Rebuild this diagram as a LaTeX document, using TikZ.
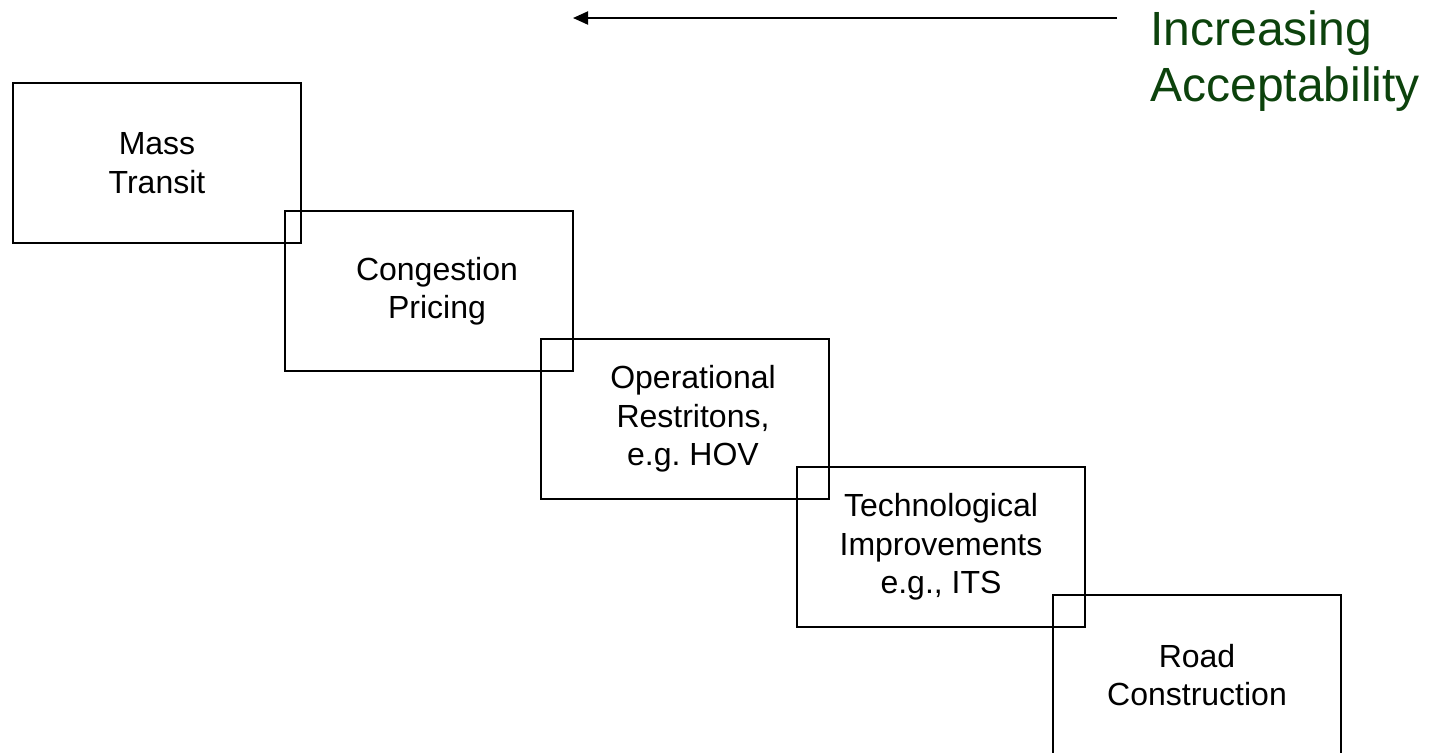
\documentclass[tikz,border=0pt]{standalone}
\usepackage{fontspec}
\setmainfont{Liberation Sans}
\usetikzlibrary{arrows.meta,positioning}
\definecolor{accgreen}{RGB}{12,66,12}
\frenchspacing

\begin{document}
\begin{tikzpicture}[x=0.5pt,y=-0.5pt,
stagebox/.style={rectangle,draw,line width=1pt,minimum width=144pt,minimum height=80pt,inner sep=0pt},
stagetext/.style={align=center,inner sep=0pt,font=\fontsize{16}{19.2}\selectfont}]
\useasboundingbox (0,0) rectangle (1431,752);
\node[stagebox] (B1) at (157,163) {};
\node[stagebox] (B2) at (429,291) {};
\node[stagebox] (B3) at (685,419) {};
\node[stagebox] (B4) at (941,547) {};
\node[stagebox] (B5) at (1197,675) {};
\node[stagetext] (T1) at (B1.center) {Mass\\Transit};
\node[stagetext] (T2) at ([xshift=4pt]B2.center) {Congestion\\Pricing};
\node[stagetext] (T3) at ([xshift=4pt]B3.center) {Operational\\Restritons,\\e.g. HOV};
\node[stagetext] (T4) at (B4.center) {Technological\\Improvements\\e.g., ITS};
\node[stagetext] (T5) at (B5.center) {Road\\Construction};

\coordinate (AS) at (1117,18);
\coordinate (AE) at (573,18);
\draw[line width=1pt,-{Triangle[length=7.5pt,width=6.5pt]}] (AS)--(AE);
\node[anchor=base west,align=left,inner sep=0pt,text=accgreen,
font=\fontsize{24}{28}\selectfont] (ACC) at (1150,101) {Increasing\\Acceptability};
\end{tikzpicture}
\end{document}
